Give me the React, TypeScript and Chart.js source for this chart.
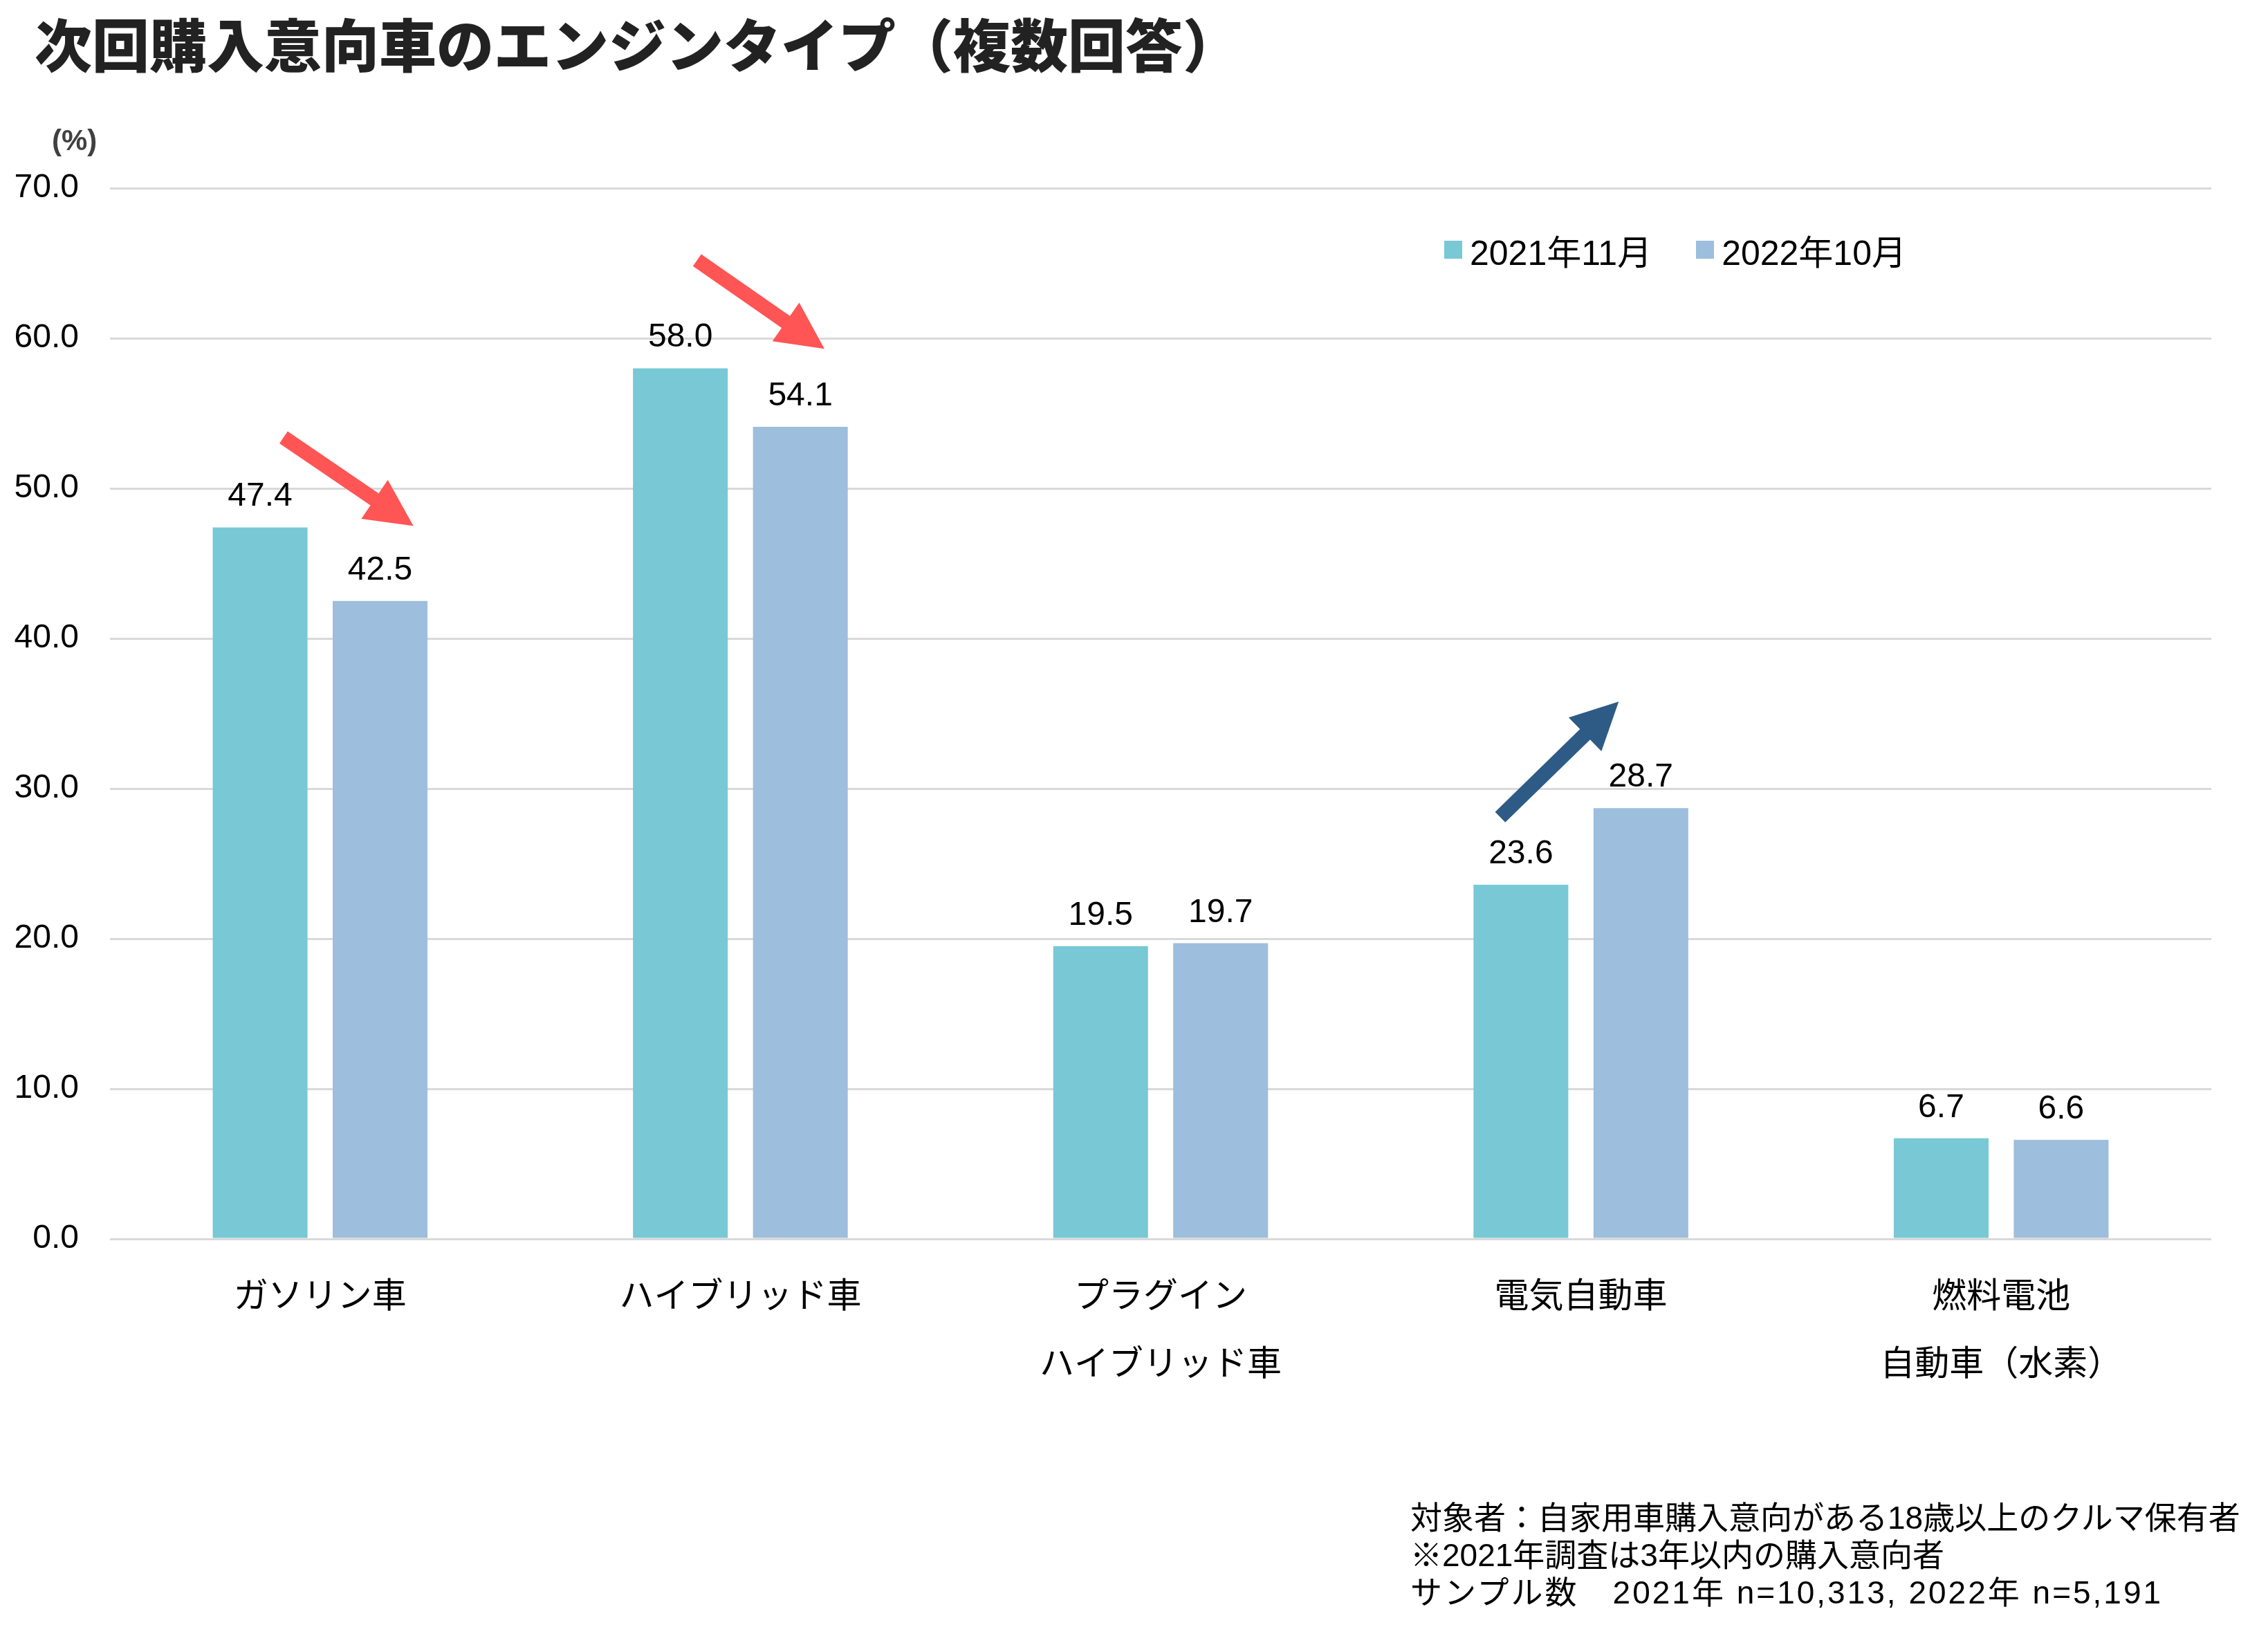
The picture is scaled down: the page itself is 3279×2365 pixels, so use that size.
import React, { useEffect, useRef } from "react";
import { Chart, registerables } from "chart.js";

Chart.register(...registerables);

// ---- data ----
const categories: string[][] = [
  ["ガソリン車"],
  ["ハイブリッド車"],
  ["プラグイン", "ハイブリッド車"],
  ["電気自動車"],
  ["燃料電池", "自動車（水素）"],
];
const series2021 = [47.4, 58.0, 19.5, 23.6, 6.7];
const series2022 = [42.5, 54.1, 19.7, 28.7, 6.6];
const seriesLabels = ["2021年11月", "2022年10月"];
const seriesColors = ["#78C8D6", "#9DBEDC"];
const yMin = 0;
const yMax = 70;
const yStep = 10;

// trend arrows, expressed in (category index, value) space
const trendArrows = [
  { from: [-0.087, 53.4], to: [0.222, 47.5], color: "#FF5555" },
  { from: [0.897, 65.2], to: [1.2, 59.3], color: "#FF5555" },
  { from: [2.808, 28.1], to: [3.09, 35.8], color: "#2E5B85" },
];

const titleText = "次回購入意向車のエンジンタイプ（複数回答）";
const unitText = "(%)";
const noteLines = [
  "対象者：自家用車購入意向がある18歳以上のクルマ保有者",
  "※2021年調査は3年以内の購入意向者",
  "サンプル数　2021年 n=10,313, 2022年 n=5,191",
];
const noteLetterSpacing = [0, 0, 3];

const FONT = '"Liberation Sans", Arial, "Noto Sans CJK JP", sans-serif';

const valueLabelPlugin = {
  id: "valueLabels",
  afterDatasetsDraw(chart: any) {
    const ctx = chart.ctx;
    ctx.save();
    ctx.font = `48px ${FONT}`;
    ctx.fillStyle = "#000";
    ctx.textAlign = "center";
    ctx.textBaseline = "alphabetic";
    chart.data.datasets.forEach((ds: any, di: number) => {
      const meta = chart.getDatasetMeta(di);
      meta.data.forEach((bar: any, i: number) => {
        ctx.fillText(Number(ds.data[i]).toFixed(1), bar.x, bar.y - 31);
      });
    });
    ctx.restore();
  },
};

const arrowPlugin = {
  id: "trendArrows",
  afterDatasetsDraw(chart: any) {
    const ctx = chart.ctx;
    const xs = chart.scales.x;
    const ys = chart.scales.y;
    const p0 = xs.getPixelForValue(0);
    const p1 = xs.getPixelForValue(1);
    const px = (v: number) => p0 + v * (p1 - p0);
    ctx.save();
    trendArrows.forEach((a) => {
      const x1 = px(a.from[0]);
      const y1 = ys.getPixelForValue(a.from[1]);
      const x2 = px(a.to[0]);
      const y2 = ys.getPixelForValue(a.to[1]);
      const dx = x2 - x1;
      const dy = y2 - y1;
      const len = Math.hypot(dx, dy);
      const ux = dx / len;
      const uy = dy / len;
      const nx = -uy;
      const ny = ux;
      const sw = 10.5;
      const hw = 34;
      const hl = 68;
      const bx = x2 - ux * hl;
      const by = y2 - uy * hl;
      ctx.beginPath();
      ctx.moveTo(x1 + nx * sw, y1 + ny * sw);
      ctx.lineTo(bx + nx * sw, by + ny * sw);
      ctx.lineTo(bx + nx * hw, by + ny * hw);
      ctx.lineTo(x2, y2);
      ctx.lineTo(bx - nx * hw, by - ny * hw);
      ctx.lineTo(bx - nx * sw, by - ny * sw);
      ctx.lineTo(x1 - nx * sw, y1 - ny * sw);
      ctx.closePath();
      ctx.fillStyle = a.color;
      ctx.fill();
    });
    ctx.restore();
  },
};

export default function App() {
  const canvasRef = useRef<HTMLCanvasElement | null>(null);

  useEffect(() => {
    if (!canvasRef.current) return;
    const chart = new Chart(canvasRef.current, {
      type: "bar",
      data: {
        labels: categories,
        datasets: [
          {
            label: seriesLabels[0],
            data: series2021,
            backgroundColor: seriesColors[0],
            categoryPercentage: 0.571,
            barPercentage: 0.79,
          },
          {
            label: seriesLabels[1],
            data: series2022,
            backgroundColor: seriesColors[1],
            categoryPercentage: 0.571,
            barPercentage: 0.79,
          },
        ],
      },
      options: {
        responsive: false,
        animation: false,
        devicePixelRatio: 1,
        layout: { padding: { left: 0, right: 82, top: 272, bottom: 324 } },
        plugins: {
          legend: { display: false },
          tooltip: { enabled: false },
          title: { display: false },
        },
        scales: {
          x: {
            grid: { display: false },
            border: { display: false },
            ticks: {
              color: "#000",
              padding: 28,
              maxRotation: 0,
              autoSkip: false,
              font: { size: 50, family: FONT, lineHeight: 1.96 },
            },
            afterFit(scale: any) {
              scale.height = 250;
            },
          },
          y: {
            min: yMin,
            max: yMax,
            border: { display: false },
            grid: { color: "#D9D9D9", lineWidth: 3, drawTicks: false },
            ticks: {
              stepSize: yStep,
              color: "#000",
              padding: 45,
              font: { size: 48, family: FONT },
              callback: (v: any) => Number(v).toFixed(1),
            },
            afterFit(scale: any) {
              scale.width = 159;
            },
          },
        },
      },
      plugins: [valueLabelPlugin, arrowPlugin],
    } as any);
    return () => chart.destroy();
  }, []);

  return (
    <div
      style={{
        position: "absolute",
        left: 0,
        top: 0,
        width: 3279,
        height: 2365,
        background: "#fff",
        overflow: "hidden",
        fontFamily: FONT,
      }}
    >
      <canvas
        ref={canvasRef}
        width={3279}
        height={2365}
        style={{ position: "absolute", left: 0, top: 0, width: 3279, height: 2365 }}
      />
      <div
        style={{
          position: "absolute",
          left: 50,
          top: 20,
          fontSize: 83,
          lineHeight: "83px",
          fontWeight: 900,
          color: "#222",
          whiteSpace: "nowrap",
          fontFamily: '"Noto Sans CJK JP", sans-serif',
        }}
      >
        {titleText}
      </div>
      <div
        style={{
          position: "absolute",
          left: 75,
          top: 180,
          fontSize: 42,
          lineHeight: "46px",
          fontWeight: 700,
          color: "#404040",
          whiteSpace: "nowrap",
        }}
      >
        {unitText}
      </div>
      <div
        style={{
          position: "absolute",
          left: 2088,
          top: 335,
          height: 52,
          display: "flex",
          alignItems: "center",
          fontSize: 50,
          color: "#000",
          whiteSpace: "nowrap",
        }}
      >
        {seriesLabels.map((s, i) => (
          <div key={s} style={{ display: "flex", alignItems: "center", marginRight: i === 0 ? 64 : 0 }}>
            <div style={{ width: 26, height: 26, background: seriesColors[i], marginRight: 11 }} />
            <span>{s}</span>
          </div>
        ))}
      </div>
      <div
        style={{
          position: "absolute",
          left: 2039,
          top: 2167,
          fontSize: 46,
          lineHeight: "54px",
          color: "#000",
          whiteSpace: "pre",
        }}
      >
        {noteLines.map((l, i) => (
          <div key={l} style={{ letterSpacing: noteLetterSpacing[i] }}>
            {l}
          </div>
        ))}
      </div>
    </div>
  );
}
